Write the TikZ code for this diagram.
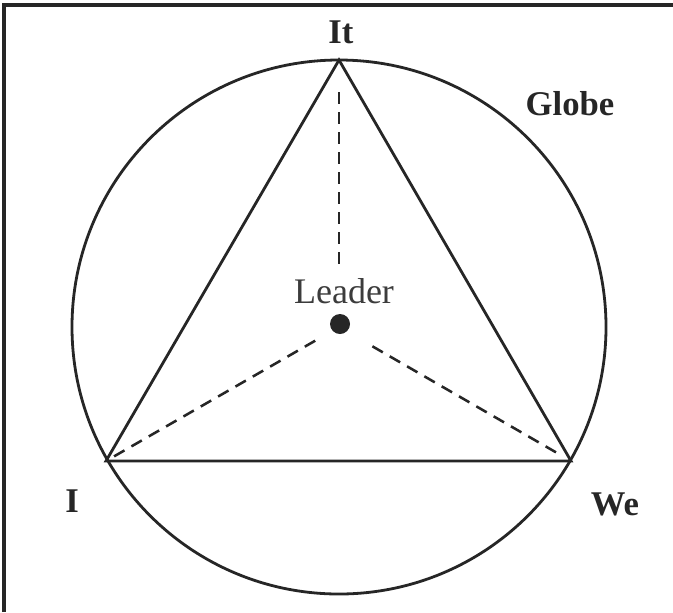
\documentclass[tikz,border=0pt]{standalone}
\usepackage{fontspec}
\setmainfont{Liberation Serif}
\usepackage{xcolor}
\usetikzlibrary{arrows.meta,positioning}

\definecolor{ink}{HTML}{262626}
\definecolor{softink}{HTML}{3C3C3C}

\begin{document}
\begin{tikzpicture}[
    x=0.75pt,y=-0.75pt,
    line width=2.1pt,
    draw=ink,
    corner/.style={
        font=\fontsize{26}{30}\selectfont\bfseries,
        text=ink,
        anchor=base,
        inner sep=0pt
    },
    spoke/.style={
        draw=ink,
        line width=1.9pt,
        dash pattern=on 9pt off 6pt
    }
]

\useasboundingbox (0,0) rectangle (673,612);

% frame (only top and left edges are visible)
\draw[line width=2.4pt] (4,612) -- (4,5) -- (673,5);

% globe and triangle
\coordinate (centre) at (339,327);
\coordinate (it) at (339,60);
\coordinate (i)  at (106,461);
\coordinate (we) at (571,461);

\draw (centre) circle[radius=267];
\draw[line join=miter] (it) -- (we) -- (i) -- cycle;

% leader
\node[circle, fill=ink, minimum size=15pt, inner sep=0pt] (leader) at (340,324) {};
\node[font=\fontsize{27}{30}\selectfont, text=softink, anchor=base, inner sep=0pt]
    (leaderlabel) at (344,303) {Leader};

% spokes
\draw[spoke, shorten <=24pt, shorten >=43pt] (it) -- (centre);
\draw[spoke, shorten <=7pt,  shorten >=16pt] (i) -- (centre);
\draw[spoke, shorten <=13pt, shorten >=28pt] (we) -- (centre);

% labels
\node[corner] (itlabel)    at (341,43)  {It};
\node[corner] (globelabel) at (570,115) {Globe};
\node[corner] (ilabel)     at (72,512)  {I};
\node[corner] (welabel)    at (615,515) {We};

\end{tikzpicture}
\end{document}
